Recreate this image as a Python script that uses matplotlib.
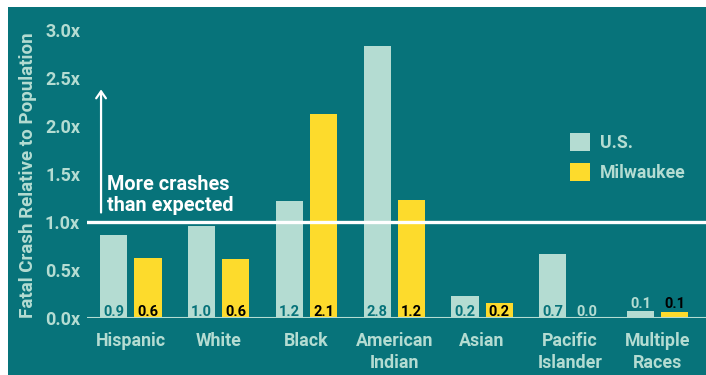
import matplotlib.pyplot as plt
from matplotlib.patches import Rectangle, Patch

plt.rcParams['font.family'] = ['Roboto', 'DejaVu Sans']
plt.rcParams['font.weight'] = 'bold'

# data
groups = ['Hispanic', 'White', 'Black', 'American\nIndian', 'Asian', 'Pacific\nIslander', 'Multiple\nRaces']
us = [0.86, 0.96, 1.22, 2.83, 0.23, 0.67, 0.076]
mke = [0.63, 0.61, 2.12, 1.23, 0.16, 0.0, 0.059]
yticks = [0, 0.5, 1.0, 1.5, 2.0, 2.5, 3.0]

bg = '#07737a'
light = '#b4dcd2'
yellow = '#fddb2c'

fig = plt.figure(figsize=(7.06, 3.75), dpi=100)
fig.patch.set_facecolor('white')
fig.patches.append(Rectangle((8 / 706, 0), 1, 1 - 7 / 375, transform=fig.transFigure,
                             facecolor=bg, edgecolor='none', zorder=-10))

ax = fig.add_axes([87 / 706, 57 / 375, 1 - 87 / 706, 288 / 375])
ax.set_facecolor('none')
x = list(range(len(groups)))
w = 0.31
off = 0.195
ax.bar([i - off for i in x], us, w, color=light, zorder=2)
ax.bar([i + off for i in x], mke, w, color=yellow, zorder=2)

# value labels
for i in x:
    pair = [(us[i], -off, True), (mke[i], off, False)]
    small = max(us[i], mke[i]) < 0.12
    top = max(us[i], mke[i])
    for v, o, is_us in pair:
        if small:
            y = top + 0.03
            c = light if is_us else 'black'
        elif v < 0.12:
            y = 0.02
            c = light
        else:
            y = 0.02
            c = bg if is_us else 'black'
        ax.text(i + o, y, f'{v:.1f}', ha='center', va='baseline', fontsize=10.5,
                color=c, zorder=3)

ax.axhline(1.0, color='white', lw=2.4, zorder=4)
ax.axhline(0, color=light, lw=1.5, zorder=4)

ax.annotate('', xy=(-0.34, 2.41), xytext=(-0.34, 1.07),
            arrowprops=dict(arrowstyle='->,head_length=0.5,head_width=0.35', color='white', lw=1.6),
            annotation_clip=False)
ax.text(-0.27, 1.117, 'More crashes\nthan expected', color='white', fontsize=14.3,
        ha='left', va='baseline', linespacing=1.1)

ax.set_xlim(-0.5, 6.55)
ax.set_ylim(0, 3.0)
ax.set_yticks(yticks)
ax.set_yticklabels([f'{t:.1f}x' for t in yticks])
ax.set_xticks(x)
ax.set_xticklabels(groups, linespacing=1.3)
ax.tick_params(axis='y', length=0, pad=5, labelsize=13, labelcolor=light)
ax.tick_params(axis='x', length=0, pad=10, labelsize=12.8, labelcolor=light)
for s in ax.spines.values():
    s.set_visible(False)

fig.text(28 / 706, 1 - 175 / 375, 'Fatal Crash Relative to Population', rotation=90,
         ha='center', va='center', fontsize=13.5, color=light)

handles = [Patch(facecolor=light), Patch(facecolor=yellow)]
leg = fig.legend(handles, ['U.S.', 'Milwaukee'], loc='upper left',
                 bbox_to_anchor=(570 / 706, 1 - 133 / 375), frameon=False,
                 fontsize=12.7, handlelength=1.15, handleheight=1.15,
                 handletextpad=0.55, labelspacing=0.65, borderpad=0, borderaxespad=0)
for t in leg.get_texts():
    t.set_color(light)

fig.savefig('out.png', dpi=100)
